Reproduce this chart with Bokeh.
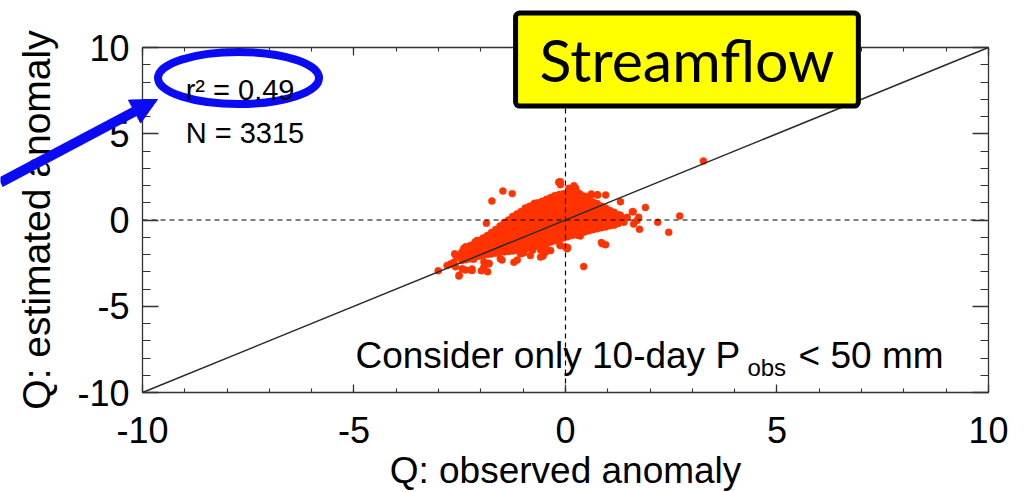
from bokeh.plotting import figure
from bokeh.models import (LinearAxis, FixedTicker, Label, Arrow,
                          NormalHead, ColumnDataSource, Range1d)
from bokeh.embed import file_html
from bokeh.resources import INLINE

# ---------------------------------------------------------------------------
# Data: observed vs. estimated streamflow anomalies (10-day P_obs < 50 mm)
# ---------------------------------------------------------------------------
# Dense core of the cloud, listed column by column: (observed, [estimated...])
cloud_columns = [
    (-2.45, [-1.85, -2.10, -2.35]),
    (-2.35, [-1.70, -2.00, -2.30]),
    (-2.25, [-1.55, -1.85, -2.05, -2.25]),
    (-2.15, [-1.35, -1.65, -1.90, -2.15]),
    (-2.05, [-1.20, -1.50, -1.80, -2.10]),
    (-1.95, [-1.05, -1.35, -1.65, -1.85, -2.05]),
    (-1.85, [-0.90, -1.20, -1.50, -1.75, -2.00]),
    (-1.75, [-0.72, -1.00, -1.30, -1.55, -1.80, -1.97]),
    (-1.65, [-0.55, -0.85, -1.15, -1.45, -1.70, -1.93]),
    (-1.55, [-0.35, -0.65, -0.95, -1.25, -1.55, -1.88]),
    (-1.45, [-0.15, -0.45, -0.75, -1.05, -1.35, -1.60, -1.85]),
    (-1.35, [0.00, -0.30, -0.60, -0.90, -1.20, -1.50, -1.82]),
    (-1.25, [0.20, -0.10, -0.40, -0.70, -1.00, -1.30, -1.55, -1.80]),
    (-1.15, [0.35, 0.05, -0.25, -0.55, -0.85, -1.15, -1.45, -1.77]),
    (-1.05, [0.50, 0.20, -0.10, -0.40, -0.70, -1.00, -1.30, -1.55, -1.73]),
    (-0.95, [0.70, 0.40, 0.10, -0.20, -0.50, -0.80, -1.10, -1.40, -1.68]),
    (-0.85, [0.80, 0.50, 0.20, -0.10, -0.40, -0.70, -1.00, -1.30, -1.63]),
    (-0.75, [0.92, 0.62, 0.32, 0.02, -0.28, -0.58, -0.88, -1.18, -1.40, -1.57]),
    (-0.65, [1.00, 0.70, 0.40, 0.10, -0.20, -0.50, -0.80, -1.10, -1.30, -1.50]),
    (-0.55, [1.08, 0.78, 0.48, 0.18, -0.12, -0.42, -0.72, -1.02, -1.25, -1.42]),
    (-0.45, [1.20, 0.90, 0.60, 0.30, 0.00, -0.30, -0.60, -0.90, -1.15, -1.35]),
    (-0.35, [1.30, 1.00, 0.70, 0.40, 0.10, -0.20, -0.50, -0.80, -1.05, -1.28]),
    (-0.25, [1.42, 1.12, 0.82, 0.52, 0.22, -0.08, -0.38, -0.68, -0.95, -1.20]),
    (-0.15, [1.48, 1.18, 0.88, 0.58, 0.28, -0.02, -0.32, -0.62, -0.90, -1.12]),
    (-0.05, [1.52, 1.22, 0.92, 0.62, 0.32, 0.02, -0.28, -0.58, -0.85, -1.05]),
    (0.05, [1.60, 1.30, 1.00, 0.70, 0.40, 0.10, -0.20, -0.50, -0.75, -0.97]),
    (0.15, [1.68, 1.38, 1.08, 0.78, 0.48, 0.18, -0.12, -0.42, -0.70, -0.90]),
    (0.25, [1.62, 1.32, 1.02, 0.72, 0.42, 0.12, -0.18, -0.48, -0.85]),
    (0.35, [1.50, 1.20, 0.90, 0.60, 0.30, 0.00, -0.30, -0.55, -0.78]),
    (0.45, [1.38, 1.08, 0.78, 0.48, 0.18, -0.12, -0.42, -0.70]),
    (0.55, [1.20, 0.90, 0.60, 0.30, 0.00, -0.30, -0.63]),
    (0.65, [1.05, 0.75, 0.45, 0.15, -0.15, -0.35, -0.56]),
    (0.75, [0.95, 0.65, 0.35, 0.05, -0.25, -0.50]),
    (0.85, [0.80, 0.50, 0.20, -0.10, -0.45]),
    (0.95, [0.70, 0.40, 0.10, -0.15, -0.40]),
    (1.05, [0.55, 0.25, -0.05, -0.33]),
    (1.15, [0.45, 0.15, -0.15, -0.30]),
    (1.25, [0.30, 0.00, -0.20]),
]

# Scattered points around the core and isolated outliers
sparse_obs = [-0.14, -0.12, -1.48, -1.26, -1.74, -0.73, -0.50, 0.20, 0.10, 0.25,
              0.61, 0.76, 0.95, 1.30, 1.60, 1.89, 2.70, 2.44, 2.18, 1.73,
              1.61, 1.75, 1.30, 1.42, 1.22, 0.85, 0.95, 0.43, 0.05, -0.13,
              -3.01, -2.68, -2.60, -2.51, -2.23, -1.99, -1.84, -2.60, -2.40, -2.36,
              -1.87, -1.81, -1.14, -0.53, -0.99, -0.78, -2.72, -2.52, -2.36, -2.21,
              -2.17, -1.93, -1.50, -1.06, -0.59, -0.47, -2.13, -1.97, -1.54, -1.61,
              -1.89, 1.58, 1.06, 0.99, 0.35, 0.28, 0.24, -0.12, 0.08, 0.31,
              0.43, 3.26,
              -0.16, 0.24, 0.16, 0.59, 0.75, 1.46, 1.26, 1.38, 1.18, 0.87,
              0.00, -0.12, -0.59, -0.47, -1.06, -1.54, -1.81, -1.93, -2.21, -2.44,
              -2.56, -2.62, -2.09, -2.25, -2.40, 1.14, 1.69, 0.04, -0.35, -0.83,
              -1.22, -2.64, -2.80]
sparse_est = [2.20, 2.05, 1.68, 1.53, 1.10, 0.97, 1.06, 1.99, 1.80, 1.70,
              1.51, 1.45, 1.45, 1.06, 0.48, 0.73, 0.23, -0.71, -0.13, 0.16,
              -0.23, -0.54, 0.27, 0.10, -0.13, -1.31, -1.43, -2.70, -1.60, -1.47,
              -2.94, -2.55, -2.71, -3.19, -2.90, -2.94, -3.00, -2.03, -1.64, -1.55,
              -0.19, -2.51, -2.32, -2.09, -1.91, -1.76, -2.55, -3.25, -2.90, -2.84,
              -2.28, -2.42, -2.32, -1.93, -1.74, -1.55, -1.26, -1.26, -0.58, -0.87,
              -1.16, 0.48, 0.42, 0.19, -0.93, -0.87, -0.68, 2.22, 1.84, 1.55,
              1.26, 3.42,
              2.19, 1.85, 1.71, 1.42, 1.46, 0.16, 0.16, -0.13, -0.13, -1.38,
              -1.57, -1.48, -2.15, -1.86, -1.96, -2.25, -2.54, -2.73, -2.93, -2.83,
              -2.15, -1.96, -1.19, -1.48, -1.67, 0.36, -0.03, -1.67, -1.77, -2.06,
              -2.45, -2.45, -2.64]

# Reference lines: 1:1 diagonal and the two zero lines
one_to_one = [-10, 10]
zero_span = [-10, 10]
zero_level = [0, 0]

# Axis ticks and labels
major_ticks = [-10, -5, 0, 5, 10]
minor_ticks = [-10, -9, -8, -7, -6, -5, -4, -3, -2, -1, 0,
               1, 2, 3, 4, 5, 6, 7, 8, 9, 10]
tick_labels = ["-10", "-5", "0", "5", "10"]

obs = [x for x, ys in cloud_columns for _ in ys] + sparse_obs
est = [y for _, ys in cloud_columns for y in ys] + sparse_est

# ---------------------------------------------------------------------------
FONT = "Liberation Sans"
AXIS_COLOR = "#333333"
BLUE = "#0a0af5"

# The frame spans the whole canvas so that the callouts can sit in the
# margins; the axes are pinned to the edges of the -10..10 data box.
p = figure(width=1025, height=492,
           x_range=Range1d(-13.357, 10.875), y_range=Range1d(-15.797, 12.725),
           output_backend="svg", toolbar_location=None,
           min_border=0, min_border_left=0, min_border_right=0,
           min_border_top=0, min_border_bottom=0)
p.background_fill_color = "white"
p.border_fill_color = "white"
p.grid.visible = False
p.outline_line_color = None

ticker = FixedTicker(ticks=major_ticks, minor_ticks=minor_ticks)
labels_map = {t: s for t, s in zip(major_ticks, tick_labels)}
blank_map = {t: "" for t in major_ticks}


def style_axis(ax, location, major_in, minor_in, show_labels):
    ax.ticker = ticker
    ax.fixed_location = location
    ax.bounds = (-10, 10)
    ax.axis_line_color = AXIS_COLOR
    ax.axis_line_width = 1.3
    ax.major_tick_line_color = AXIS_COLOR
    ax.minor_tick_line_color = AXIS_COLOR
    ax.major_tick_line_width = 1.3
    ax.minor_tick_line_width = 1.1
    ax.major_tick_in = major_in
    ax.major_tick_out = 0
    ax.minor_tick_in = minor_in
    ax.minor_tick_out = 0
    ax.major_label_text_font = FONT
    ax.major_label_text_font_size = "36px"
    ax.major_label_text_color = "black"
    ax.axis_label_text_font = FONT
    ax.axis_label_text_font_style = "normal"
    ax.axis_label_text_color = "black"
    if show_labels:
        ax.major_label_overrides = labels_map
    else:
        ax.major_label_overrides = blank_map
        ax.major_label_standoff = 0


xaxis = p.xaxis[0]
style_axis(xaxis, -10, 8, 4, True)
xaxis.axis_label = "Q: observed anomaly"
xaxis.axis_label_text_font_size = "37px"
xaxis.major_label_standoff = 24
xaxis.axis_label_standoff = 4

yaxis = p.yaxis[0]
style_axis(yaxis, -10, 16, 8, True)
yaxis.axis_label = "Q: estimated anomaly"
yaxis.axis_label_text_font_size = "39px"
yaxis.major_label_standoff = 13
yaxis.axis_label_standoff = 16

top_axis = LinearAxis()
style_axis(top_axis, 10, 8, 4, False)
p.add_layout(top_axis, "above")

right_axis = LinearAxis()
style_axis(right_axis, 10, 16, 8, False)
p.add_layout(right_axis, "right")

# Scatter cloud
src = ColumnDataSource(data=dict(obs=obs, est=est))
p.scatter("obs", "est", source=src, size=7, fill_color="#ff3300",
          line_color="#ff3300", line_width=0.5)

# Zero lines and 1:1 line
p.line(zero_span, zero_level, line_color="black", line_width=1.2,
       line_dash="5 4")
p.line(zero_level, zero_span, line_color="black", line_width=1.2,
       line_dash="5 4")
p.line(one_to_one, one_to_one, line_color="#2a2a2a", line_width=1.5)

# Statistics
p.add_layout(Label(x=-8.98, y=7.54, text="r² = 0.49",
                   text_font=FONT, text_font_size="29px",
                   text_color="black", text_baseline="alphabetic"))
p.add_layout(Label(x=-8.98, y=5.04, text="N = 3315",
                   text_font=FONT, text_font_size="29px",
                   text_color="black", text_baseline="alphabetic"))

# Condition note with subscript
p.add_layout(Label(x=-4.965, y=-7.84, text="Consider only 10-day P",
                   text_font=FONT, text_font_size="37px",
                   text_color="black", text_baseline="alphabetic"))
p.add_layout(Label(x=4.30, y=-8.55, text="obs",
                   text_font=FONT, text_font_size="24px",
                   text_color="black", text_baseline="alphabetic"))
p.add_layout(Label(x=5.51, y=-7.84, text="< 50 mm",
                   text_font=FONT, text_font_size="37px",
                   text_color="black", text_baseline="alphabetic"))

# Highlight ring around r² and pointer arrow
p.ellipse(x=[-7.73], y=[8.23], width=161, height=52,
          width_units="screen", height_units="screen",
          fill_color=None, line_color=BLUE, line_width=8)
p.add_layout(Arrow(end=NormalHead(size=26, fill_color=BLUE, line_color=BLUE),
                   x_start=-13.36, y_start=2.17, x_end=-9.645, y_end=6.99,
                   line_color=BLUE, line_width=10))

# Title badge
p.add_layout(Label(x=2.872, y=9.30, text="Streamflow",
                   text_font="Lato", text_font_size="59px",
                   text_color="black", text_align="center",
                   text_baseline="middle",
                   background_fill_color="#ffff00",
                   border_line_color="black", border_line_width=5,
                   border_radius=4,
                   padding=dict(left=24, right=24, top=11, bottom=11)))

open("out.html", "w").write(file_html(p, INLINE))
